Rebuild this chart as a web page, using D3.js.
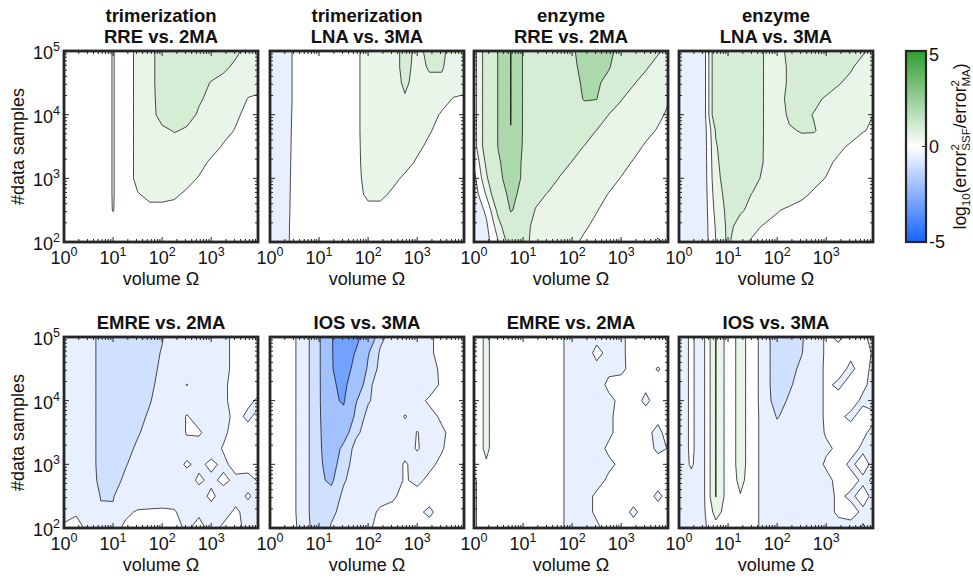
<!DOCTYPE html>
<html>
<head>
<meta charset="utf-8">
<script src="https://cdn.jsdelivr.net/npm/d3@7"></script>
<style>
  body { margin: 0; background: #fff; }
  svg { display: block; }
  text { font-family: "Liberation Sans", Arial, Helvetica, sans-serif; fill: #111; }
</style>
</head>
<body>
<svg id="chart" width="973" height="578"></svg>
<script>
// grid the contour values sit on (log10 of volume, log10 of sample count, top row first)
const logOmega = [0, 0.25, 0.5, 0.75, 1, 1.25, 1.5, 1.75, 2, 2.25, 2.5, 2.75, 3, 3.25, 3.5, 3.75, 4];
const logSamples = [5, 4.75, 4.5, 4.25, 4, 3.75, 3.5, 3.25, 3, 2.75, 2.5, 2.25, 2];
const levels = [-3, -2, -1, -0.5, 0, 0.5, 1, 2, 3];
const xTicks = [1, 10, 100, 1000];
const yTicks = [100, 1000, 10000, 100000];
const cbTicks = [-5, 0, 5];

const titles = [
    ['trimerization', 'RRE vs. 2MA'], ['trimerization', 'LNA vs. 3MA'],
    ['enzyme', 'RRE vs. 2MA'], ['enzyme', 'LNA vs. 3MA'],
    ['EMRE vs. 2MA'], ['IOS vs. 3MA'], ['EMRE vs. 2MA'], ['IOS vs. 3MA']
];

// log10(error^2 SSF / error^2 MA), rows = logSamples, cols = logOmega
const trimerRRE = [
    [0.2,0.2,0.25,0.3,-0.03,0.3,0.6,0.8,1.3,1.4,1.4,1.4,1.35,1.3,1.1,0.85,0.8],
    [0.2,0.2,0.25,0.3,-0.03,0.3,0.6,0.8,1.3,1.4,1.4,1.35,1.25,1.1,0.9,0.75,0.7],
    [0.2,0.2,0.25,0.3,-0.03,0.3,0.6,0.8,1.3,1.35,1.3,1.2,0.97,0.85,0.75,0.62,0.6],
    [0.2,0.2,0.25,0.3,-0.03,0.3,0.6,0.8,1.25,1.3,1.2,1.05,0.9,0.75,0.65,0.49,0.45],
    [0.2,0.2,0.25,0.3,-0.03,0.3,0.6,0.8,1.2,1.2,1.15,0.95,0.8,0.68,0.55,0.42,0.4],
    [0.2,0.2,0.25,0.3,-0.03,0.3,0.6,0.8,0.9,1.03,0.95,0.85,0.72,0.6,0.48,0.4,0.38],
    [0.2,0.2,0.25,0.3,-0.03,0.3,0.6,0.75,0.8,0.8,0.78,0.72,0.62,0.47,0.4,0.36,0.35],
    [0.2,0.2,0.25,0.3,-0.03,0.3,0.6,0.7,0.72,0.72,0.7,0.6,0.45,0.4,0.36,0.34,0.33],
    [0.2,0.2,0.25,0.3,-0.03,0.3,0.6,0.65,0.66,0.66,0.6,0.48,0.4,0.36,0.34,0.32,0.3],
    [0.2,0.2,0.25,0.3,-0.03,0.3,0.48,0.58,0.58,0.55,0.45,0.4,0.36,0.34,0.32,0.3,0.3],
    [0.2,0.2,0.25,0.3,-0.02,0.3,0.38,0.42,0.42,0.4,0.38,0.35,0.33,0.32,0.3,0.3,0.3],
    [0.2,0.2,0.25,0.3,0.2,0.3,0.3,0.3,0.3,0.3,0.3,0.3,0.3,0.3,0.3,0.3,0.3],
    [0.2,0.2,0.25,0.3,0.25,0.3,0.3,0.3,0.3,0.3,0.3,0.3,0.3,0.3,0.3,0.3,0.3]
];

const trimerLNA = [
    [-0.2,-0.2,0.05,0.2,0.25,0.28,0.3,0.4,0.7,0.75,0.8,1.15,0.9,1.1,1.1,0.8,0.75],
    [-0.2,-0.2,0.05,0.2,0.25,0.28,0.3,0.4,0.7,0.75,0.8,1.15,0.85,1.05,1.05,0.75,0.7],
    [-0.2,-0.2,0.05,0.2,0.25,0.28,0.3,0.4,0.7,0.72,0.75,1.1,0.8,0.9,0.9,0.68,0.62],
    [-0.2,-0.2,0.05,0.2,0.25,0.28,0.3,0.4,0.7,0.7,0.72,0.95,0.75,0.7,0.6,0.48,0.45],
    [-0.2,-0.2,0.06,0.2,0.25,0.28,0.3,0.4,0.7,0.7,0.7,0.7,0.68,0.6,0.47,0.42,0.4],
    [-0.2,-0.2,0.07,0.2,0.25,0.28,0.3,0.4,0.7,0.68,0.66,0.64,0.6,0.52,0.42,0.38,0.36],
    [-0.2,-0.2,0.08,0.2,0.25,0.28,0.3,0.4,0.68,0.65,0.62,0.6,0.55,0.45,0.38,0.35,0.34],
    [-0.2,-0.2,0.09,0.2,0.25,0.28,0.3,0.4,0.66,0.62,0.6,0.58,0.47,0.4,0.35,0.33,0.32],
    [-0.2,-0.2,0.1,0.2,0.25,0.28,0.3,0.4,0.62,0.6,0.56,0.46,0.4,0.36,0.33,0.32,0.3],
    [-0.2,-0.2,0.11,0.2,0.25,0.28,0.3,0.4,0.56,0.56,0.46,0.4,0.36,0.34,0.32,0.3,0.3],
    [-0.2,-0.2,0.12,0.2,0.25,0.28,0.3,0.35,0.42,0.42,0.4,0.36,0.34,0.32,0.3,0.3,0.3],
    [-0.2,-0.2,0.14,0.2,0.25,0.28,0.3,0.3,0.3,0.3,0.3,0.3,0.3,0.3,0.3,0.3,0.3],
    [-0.2,-0.2,0.15,0.2,0.25,0.28,0.3,0.3,0.3,0.3,0.3,0.3,0.3,0.3,0.3,0.3,0.3]
];

const enzymeRRE = [
    [0.3,1.3,2.05,3.02,1.95,1.6,1.6,1.7,1.9,2.3,2.3,2.2,1.7,1.5,1.3,1.05,0.85],
    [0.3,1.3,2.05,3.02,1.95,1.6,1.6,1.7,1.85,2.2,2.2,2.05,1.6,1.35,1.05,0.85,0.7],
    [0.3,1.3,2.05,3.02,1.95,1.6,1.6,1.65,1.8,2.1,2.1,1.8,1.5,1.03,0.85,0.7,0.6],
    [0.3,1.3,2.05,3.02,1.95,1.6,1.55,1.6,1.7,2.05,2.02,1.3,1.02,0.85,0.7,0.58,0.5],
    [0.3,1.3,2.05,3.02,1.95,1.55,1.5,1.5,1.6,1.7,1.6,0.99,0.88,0.77,0.66,0.55,0.45],
    [0.3,1.3,2.05,2.99,1.95,1.5,1.45,1.4,1.4,1.3,0.98,0.88,0.78,0.67,0.57,0.48,0.4],
    [0.3,1.3,2.05,2.6,1.95,1.45,1.4,1.35,1.2,0.98,0.88,0.78,0.68,0.58,0.47,0.4,0.35],
    [0.05,1.1,1.9,2.5,1.9,1.45,1.35,1.2,0.98,0.88,0.78,0.68,0.58,0.48,0.4,0.36,0.33],
    [-0.15,0.9,1.8,2.4,1.9,1.4,1.25,0.97,0.87,0.77,0.67,0.58,0.49,0.42,0.38,0.35,0.32],
    [-0.3,0.55,1.6,2.2,1.8,1.2,0.97,0.87,0.77,0.67,0.58,0.49,0.42,0.38,0.35,0.33,0.3],
    [-0.4,0.1,1.2,2.05,1.75,0.97,0.88,0.78,0.67,0.58,0.51,0.43,0.38,0.35,0.32,0.25,0.28],
    [-0.45,-0.1,0.8,1.6,1.15,0.9,0.83,0.72,0.62,0.53,0.45,0.38,0.33,0.3,0.25,0.15,0.22],
    [-0.45,-0.2,0.5,1.3,1.1,0.9,0.78,0.66,0.55,0.46,0.4,0.34,0.3,0.25,0.15,-0.05,0.1]
];

const enzymeLNA = [
    [-0.3,-0.3,-0.3,1.55,1.5,1.45,1.4,0.95,0.85,1.1,1.4,1.5,2.05,1.5,1.3,1.05,0.85],
    [-0.3,-0.3,-0.3,1.55,1.5,1.45,1.4,0.95,0.85,1.05,1.3,1.4,1.7,1.35,1.05,0.85,0.75],
    [-0.3,-0.3,-0.3,1.55,1.5,1.45,1.4,0.95,0.85,1.05,1.25,1.3,1.2,1.03,0.9,0.75,0.68],
    [-0.3,-0.3,-0.3,1.55,1.5,1.45,1.4,0.95,0.85,1.1,1.2,1.1,0.95,0.85,0.75,0.65,0.58],
    [-0.3,-0.3,-0.3,1.55,1.5,1.45,1.4,0.95,0.85,1.05,1.1,0.98,0.85,0.75,0.65,0.56,0.49],
    [-0.3,-0.3,-0.3,1.05,1.4,1.45,1.4,0.95,0.85,0.97,1.02,1.03,0.85,0.72,0.62,0.51,0.47],
    [-0.3,-0.3,-0.3,0.95,1.35,1.4,1.35,0.95,0.85,0.85,0.9,0.8,0.66,0.56,0.46,0.42,0.4],
    [-0.3,-0.3,-0.3,0.9,1.3,1.35,1.3,0.95,0.85,0.8,0.75,0.65,0.56,0.45,0.4,0.38,0.36],
    [-0.3,-0.3,-0.3,0.85,1.25,1.3,1.15,0.9,0.8,0.75,0.68,0.58,0.49,0.42,0.38,0.36,0.35],
    [-0.3,-0.3,-0.3,0.75,1.2,1.15,0.98,0.85,0.75,0.65,0.56,0.46,0.4,0.36,0.34,0.33,0.32],
    [-0.3,-0.3,-0.3,0.65,1.15,1.05,0.9,0.7,0.52,0.45,0.4,0.36,0.34,0.32,0.3,0.3,0.3],
    [-0.3,-0.3,-0.3,0.55,1.12,0.85,0.6,0.46,0.42,0.4,0.38,0.35,0.33,0.32,0.3,0.3,0.3],
    [-0.3,-0.3,-0.3,0.5,1.1,0.58,0.45,0.42,0.4,0.38,0.36,0.34,0.32,0.3,0.3,0.3,0.3]
];

const trimerEMRE = [
    [-0.2,-0.2,-0.2,-0.7,-0.7,-0.7,-0.7,-0.7,-0.52,-0.3,-0.2,-0.15,-0.1,-0.1,0.1,0.15,0.1],
    [-0.2,-0.2,-0.2,-0.7,-0.7,-0.7,-0.7,-0.6,-0.48,-0.3,-0.2,-0.12,-0.1,-0.1,0.1,0.12,0.1],
    [-0.2,-0.2,-0.2,-0.7,-0.7,-0.7,-0.7,-0.58,-0.45,-0.3,-0.2,-0.12,-0.1,-0.08,0.08,0.1,0.12],
    [-0.2,-0.2,-0.2,-0.7,-0.7,-0.7,-0.7,-0.55,-0.42,-0.25,0.01,-0.1,-0.1,-0.05,0.1,0.05,0.08],
    [-0.2,-0.2,-0.2,-0.7,-0.7,-0.7,-0.7,-0.52,-0.35,-0.2,-0.15,-0.1,-0.08,-0.05,0.1,0.05,-0.05],
    [-0.2,-0.2,-0.2,-0.7,-0.7,-0.7,-0.6,-0.45,-0.3,-0.2,0.02,-0.1,-0.05,-0.1,0.08,-0.05,0.1],
    [-0.2,-0.2,-0.2,-0.7,-0.7,-0.7,-0.53,-0.4,-0.25,-0.2,0.02,0.03,-0.1,-0.05,0.1,0.1,0.15],
    [-0.2,-0.2,-0.2,-0.7,-0.7,-0.6,-0.45,-0.3,-0.2,-0.15,-0.1,-0.1,-0.1,0.02,0.1,0.05,0.1],
    [-0.2,-0.2,-0.2,-0.7,-0.7,-0.52,-0.4,-0.3,-0.2,-0.1,0.03,-0.05,0.05,-0.05,0.08,0.12,0.05],
    [-0.2,-0.2,-0.2,-0.65,-0.6,-0.45,-0.35,-0.25,-0.15,-0.1,-0.1,0.04,-0.05,0.05,-0.05,-0.1,0.05],
    [-0.2,-0.2,-0.2,-0.52,-0.51,-0.4,-0.3,-0.2,-0.15,-0.1,-0.05,-0.1,0.05,-0.1,-0.1,0.03,-0.1],
    [-0.1,-0.05,-0.15,-0.45,-0.48,-0.1,0.05,0.05,0.05,0.02,-0.1,-0.05,-0.1,-0.1,0.05,-0.1,-0.05],
    [0.05,0.15,-0.1,-0.3,-0.2,0.1,0.15,0.15,0.12,0.1,-0.05,0.1,-0.1,0.05,0.1,-0.1,-0.1]
];

const trimerIOS = [
    [0.2,0.15,0.05,-0.4,-0.9,-1.95,-2.4,-2.2,-1.6,-0.62,-0.3,-0.25,-0.15,-0.05,0.1,0.15,0.1],
    [0.2,0.15,0.05,-0.4,-0.9,-1.95,-2.4,-1.95,-1.05,-0.43,-0.3,-0.25,-0.15,-0.05,0.1,0.1,0.15],
    [0.2,0.15,0.05,-0.4,-0.9,-1.95,-2.3,-1.8,-0.9,-0.35,-0.3,-0.2,-0.15,-0.1,0.05,0.1,0.1],
    [0.2,0.15,0.05,-0.4,-0.9,-1.9,-2.15,-1.6,-0.6,-0.3,-0.25,-0.2,-0.1,-0.15,0.05,0.1,0.05],
    [0.2,0.15,0.05,-0.4,-0.9,-1.85,-2.08,-1.05,-0.55,-0.3,-0.25,-0.15,-0.1,0.05,0.05,0.15,0.1],
    [0.2,0.15,0.05,-0.4,-0.9,-1.7,-1.8,-0.85,-0.35,-0.25,-0.2,0.02,-0.1,-0.1,0.05,0.1,-0.05],
    [0.2,0.15,0.05,-0.4,-0.9,-1.5,-1.3,-0.6,-0.3,-0.25,-0.2,-0.15,0.01,-0.1,-0.05,0.1,0.1],
    [0.2,0.15,0.05,-0.4,-0.9,-1.4,-0.85,-0.35,-0.25,-0.2,-0.2,-0.1,0.02,-0.1,-0.02,0.1,0.15],
    [0.2,0.15,0.05,-0.4,-0.9,-1.25,-0.7,-0.3,-0.25,-0.2,-0.15,0.03,-0.1,-0.05,0.05,0.1,-0.05],
    [0.2,0.15,0.05,-0.4,-0.9,-1.1,-0.55,-0.3,-0.2,-0.15,-0.1,0.02,-0.05,0.05,0.1,0.05,0.1],
    [0.2,0.15,0.05,-0.4,-0.9,-0.8,-0.4,-0.25,-0.15,-0.1,-0.05,0.1,0.08,0.1,0.05,0.1,0.05],
    [0.2,0.15,0.05,-0.4,-0.9,-0.6,-0.35,-0.2,-0.1,0.05,0.1,0.1,0.05,-0.05,0.1,0.05,0.1],
    [0.2,0.15,0.08,-0.35,-0.9,-0.45,-0.3,-0.15,-0.05,0.1,0.12,0.1,0.1,0.1,0.1,0.05,0.1]
];

const enzymeEMRE = [
    [0.2,0.6,0.2,0.2,0.2,0.2,0.25,0.05,-0.1,-0.1,-0.05,-0.05,-0.05,0.1,0.15,0.1,0.1],
    [0.2,0.6,0.2,0.2,0.2,0.2,0.25,0.05,-0.1,-0.1,0.05,-0.05,-0.05,0.1,0.1,0.15,0.1],
    [0.2,0.6,0.2,0.2,0.2,0.2,0.25,0.05,-0.1,-0.1,-0.05,-0.05,-0.03,0.05,0.1,-0.02,0.1],
    [0.2,0.6,0.2,0.2,0.2,0.2,0.25,0.05,-0.1,-0.1,-0.1,0.05,0.05,0.1,0.05,0.1,0.1],
    [0.2,0.6,0.2,0.2,0.2,0.2,0.25,0.05,-0.1,-0.1,-0.1,-0.05,0.05,0.1,-0.05,0.1,0.1],
    [0.2,0.6,0.2,0.2,0.2,0.2,0.25,0.05,-0.1,-0.1,-0.1,-0.05,0.1,0.05,0.1,0.05,0.15],
    [0.2,0.6,0.2,0.2,0.2,0.2,0.25,0.05,-0.1,-0.1,-0.1,-0.05,0.1,0.1,0.05,-0.05,0.1],
    [0.2,0.6,0.2,0.2,0.2,0.2,0.25,0.05,-0.1,-0.1,-0.1,0.05,0.1,0.05,0.1,-0.05,0.02],
    [0.2,0.45,0.2,0.2,0.2,0.2,0.25,0.05,-0.1,-0.1,-0.1,-0.05,0.05,0.1,0.1,0.1,0.1],
    [-0.05,0.2,0.2,0.2,0.2,0.2,0.25,0.05,-0.1,-0.1,-0.1,0.05,0.1,0.05,0.02,0.1,0.1],
    [-0.05,0.2,0.2,0.2,0.2,0.2,0.25,0.05,-0.1,-0.1,0.05,0.1,0.1,0.1,0.1,-0.05,0.1],
    [-0.05,0.2,0.2,0.2,0.2,0.2,0.25,0.05,-0.1,-0.1,0.05,0.1,0.1,-0.05,0.1,0.1,0.1],
    [-0.05,0.2,0.2,0.2,0.2,0.2,0.25,0.05,-0.1,-0.1,-0.05,0.1,0.1,0.1,0.1,0.1,0.1]
];

const enzymeIOS = [
    [-0.1,0.03,-0.1,1.02,0.25,0.65,0.3,-0.35,-0.7,-0.7,-0.55,-0.2,0.05,-0.05,0.1,0.05,-0.1],
    [-0.1,0.03,-0.1,1.02,0.25,0.65,0.3,-0.35,-0.7,-0.7,-0.52,-0.2,0.05,0.1,0.05,0.1,-0.05],
    [-0.1,0.03,-0.1,1.02,0.25,0.65,0.3,-0.35,-0.7,-0.65,-0.4,-0.15,0.05,0.1,-0.05,0.1,-0.1],
    [-0.1,0.03,-0.1,1.02,0.25,0.65,0.3,-0.35,-0.7,-0.55,-0.35,-0.15,0.05,-0.05,0.1,0.05,-0.1],
    [-0.1,0.03,-0.1,1.02,0.25,0.65,0.3,-0.35,-0.65,-0.45,-0.3,-0.15,0.05,0.1,0.1,-0.05,-0.1],
    [-0.1,0.03,-0.1,1.02,0.25,0.65,0.3,-0.3,-0.52,-0.4,-0.25,-0.15,0.05,0.05,-0.05,0.1,0.05],
    [-0.1,0.03,-0.1,1.02,0.25,0.65,0.3,-0.3,-0.4,-0.3,-0.25,-0.15,0.03,0.1,0.1,0.05,-0.1],
    [-0.1,0.03,-0.1,1.02,0.25,0.65,0.3,-0.3,-0.3,-0.25,-0.2,-0.15,-0.05,0.05,0.1,-0.05,-0.1],
    [-0.1,0.02,-0.1,1.02,0.25,0.65,0.3,-0.3,-0.3,-0.25,-0.2,-0.15,0.05,0.1,-0.05,0.1,-0.1],
    [-0.1,-0.05,-0.1,1.02,0.25,0.6,0.3,-0.3,-0.3,-0.25,-0.2,-0.15,-0.1,0.1,0.1,-0.05,0.05],
    [-0.1,-0.1,-0.1,1.02,0.25,0.48,0.3,-0.3,-0.3,-0.25,-0.2,-0.15,-0.1,0.05,-0.05,0.1,-0.1],
    [-0.1,-0.1,-0.1,0.7,0.25,0.35,0.3,-0.3,-0.3,-0.25,-0.2,-0.15,-0.1,0.05,0.1,-0.05,-0.1],
    [-0.1,-0.1,-0.1,0.3,0.25,0.3,0.3,-0.3,-0.3,-0.25,-0.2,-0.15,-0.1,-0.1,-0.1,0.02,-0.1]
];

const panelValues = [trimerRRE, trimerLNA, enzymeRRE, enzymeLNA,
                     trimerEMRE, trimerIOS, enzymeEMRE, enzymeIOS];

const colLeft = [64, 270, 474, 679];
const rowTop = [51, 337];
const pw = 194, ph = 191;
const frameColor = '#262626';
const labelSize = 18;

const svg = d3.select('#chart');
const color = d3.scaleLinear().domain([-5, 0, 5]).range(['#1463ff', '#ffffff', '#2f9e2f']);

function powLabel(sel, v) {
    sel.append('tspan').text('10');
    sel.append('tspan').attr('dy', -8).attr('font-size', 12.5).text(Math.round(Math.log10(v)));
}

function drawPanel(values, title, idx) {
    const col = idx % 4, row = Math.floor(idx / 4);
    const left = colLeft[col], top = rowTop[row];
    const g = svg.append('g').attr('transform', `translate(${left},${top})`);

    const x = d3.scaleLog().domain([1, 9000]).range([0, pw]);
    const y = d3.scaleLog().domain([100, 100000]).range([ph, 0]);
    const nx = logOmega.length, ny = logSamples.length;
    // d3.contours puts cell i at i + 0.5
    const gx = d3.scaleLinear().domain([0.5, nx - 0.5]).range([logOmega[0], logOmega[nx - 1]]);
    const gy = d3.scaleLinear().domain([0.5, ny - 0.5]).range([logSamples[0], logSamples[ny - 1]]);
    const proj = d3.geoTransform({
        point: function(a, b) { this.stream.point(x(10 ** gx(a)), y(10 ** gy(b))); }
    });
    const path = d3.geoPath(proj);
    const bands = d3.contours().size([nx, ny]).thresholds(levels)(values.flat());

    const clipId = 'clip' + idx;
    g.append('clipPath').attr('id', clipId)
        .append('rect').attr('width', pw).attr('height', ph);
    const plot = g.append('g').attr('clip-path', `url(#${clipId})`);
    plot.append('rect').attr('width', pw).attr('height', ph).attr('fill', '#fff');
    plot.selectAll('path')
        .data(bands)
        .enter().append('path')
        .attr('d', path)
        .attr('fill', function(d) { return color(d.value); })
        .attr('stroke', '#000')
        .attr('stroke-width', 0.7)
        .attr('stroke-linejoin', 'round');

    // ticks, inside on all four sides
    const xt = x.ticks().filter(function(t) { return t > 1 && t < 9000; });
    const yt = y.ticks().filter(function(t) { return t > 100 && t < 100000; });
    const isMajor = function(t) { return Math.abs(Math.log10(t) - Math.round(Math.log10(t))) < 1e-9; };
    const tk = g.append('g').attr('stroke', frameColor).attr('stroke-width', 1);
    xt.forEach(function(t) {
        const len = isMajor(t) ? 5 : 3;
        tk.append('line').attr('x1', x(t)).attr('x2', x(t)).attr('y1', ph).attr('y2', ph - len);
        tk.append('line').attr('x1', x(t)).attr('x2', x(t)).attr('y1', 0).attr('y2', len);
    });
    yt.forEach(function(t) {
        const len = isMajor(t) ? 5 : 3;
        tk.append('line').attr('y1', y(t)).attr('y2', y(t)).attr('x1', 0).attr('x2', len);
        tk.append('line').attr('y1', y(t)).attr('y2', y(t)).attr('x1', pw).attr('x2', pw - len);
    });

    g.append('rect').attr('width', pw).attr('height', ph)
        .attr('fill', 'none').attr('stroke', frameColor).attr('stroke-width', 2.8);

    // x tick labels
    xTicks.forEach(function(t) {
        const lab = g.append('text').attr('x', x(t)).attr('y', ph + 21.5)
            .attr('text-anchor', 'middle').attr('font-size', labelSize);
        powLabel(lab, t);
    });
    g.append('text').attr('x', pw / 2).attr('y', ph + 42.5)
        .attr('text-anchor', 'middle').attr('font-size', labelSize).text('volume \u03A9');

    if (col === 0) {
        yTicks.forEach(function(t) {
            const lab = g.append('text').attr('x', -4).attr('y', y(t) + 8)
                .attr('text-anchor', 'end').attr('font-size', labelSize);
            powLabel(lab, t);
        });
        g.append('text')
            .attr('transform', `translate(-40,${ph / 2}) rotate(-90)`)
            .attr('text-anchor', 'middle').attr('font-size', labelSize)
            .text('#data samples');
    }

    // title lines, bottom line just above the frame
    title.forEach(function(line, k) {
        g.append('text')
            .attr('x', pw / 2)
            .attr('y', -8 - (title.length - 1 - k) * 21)
            .attr('text-anchor', 'middle')
            .attr('font-size', 18.5).attr('font-weight', 'bold')
            .text(line);
    });
}

panelValues.forEach(function(v, i) { drawPanel(v, titles[i], i); });

// colour bar
const cbLeft = 906, cbW = 20, cbTop = 51, cbH = 191;
const cb = d3.scaleLinear().domain([-5, 5]).range([cbTop + cbH, cbTop]);
const grad = svg.append('defs').append('linearGradient')
    .attr('id', 'cbgrad').attr('x1', 0).attr('y1', 1).attr('x2', 0).attr('y2', 0);
[-5, 0, 5].forEach(function(v) {
    grad.append('stop').attr('offset', (v + 5) / 10).attr('stop-color', color(v));
});
svg.append('rect').attr('x', cbLeft).attr('y', cbTop).attr('width', cbW).attr('height', cbH)
    .attr('fill', 'url(#cbgrad)');
cbTicks.forEach(function(t) {
    svg.append('line').attr('x1', cbLeft + cbW).attr('x2', cbLeft + cbW - 4)
        .attr('y1', cb(t)).attr('y2', cb(t)).attr('stroke', frameColor);
    svg.append('text').attr('x', cbLeft + cbW + 3)
        .attr('y', t === 5 ? cb(t) + 10 : cb(t) + 6)
        .attr('font-size', labelSize).text(t);
});
svg.append('rect').attr('x', cbLeft).attr('y', cbTop).attr('width', cbW).attr('height', cbH)
    .attr('fill', 'none').attr('stroke', frameColor).attr('stroke-width', 2.2);

const cbLabel = svg.append('text')
    .attr('transform', `translate(966,${cbTop + cbH / 2}) rotate(-90)`)
    .attr('text-anchor', 'middle').attr('font-size', 17.5);
cbLabel.append('tspan').text('log');
cbLabel.append('tspan').attr('dy', 4).attr('font-size', 11.5).text('10');
cbLabel.append('tspan').attr('dy', -4).text('(error');
cbLabel.append('tspan').attr('dy', -7).attr('font-size', 11.5).text('2');
cbLabel.append('tspan').attr('dx', -6.5).attr('dy', 11).attr('font-size', 11.5).text('SSF');
cbLabel.append('tspan').attr('dy', -4).text('/error');
cbLabel.append('tspan').attr('dy', -7).attr('font-size', 11.5).text('2');
cbLabel.append('tspan').attr('dx', -6.5).attr('dy', 11).attr('font-size', 11.5).text('MA');
cbLabel.append('tspan').attr('dy', -4).text(')');
</script>
</body>
</html>
